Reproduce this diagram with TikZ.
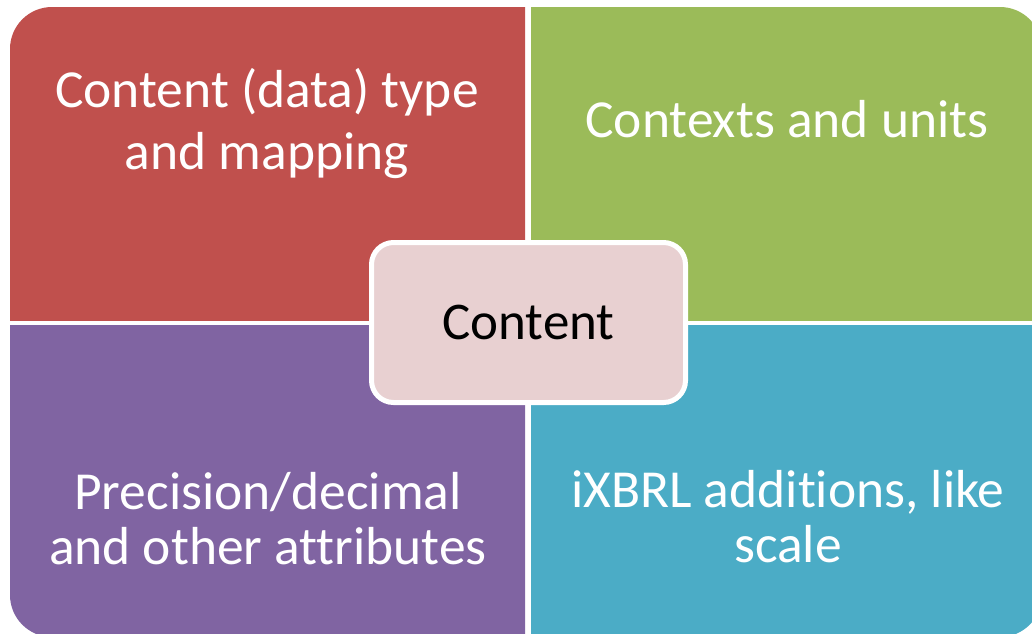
\documentclass[tikz,border=0pt]{standalone}
\usepackage{fontspec}
\setmainfont{Carlito}[Ligatures=NoCommon]

\definecolor{rojo}{HTML}{C0504D}
\definecolor{verde}{HTML}{9BBB59}
\definecolor{morado}{HTML}{8064A2}
\definecolor{azul}{HTML}{4BACC6}
\definecolor{rosa}{HTML}{E8D0D1}

\tikzset{
  texto/.style={text=white, align=center, inner sep=0pt, anchor=base,
    font=\fontsize{53.5}{62}\selectfont},
  textobajo/.style={texto, font=\fontsize{53.5}{55}\selectfont},
  centro/.style={draw=white, line width=5pt, fill=rosa, rounded corners=22pt,
    minimum width=314pt, minimum height=160pt, inner sep=0pt,
    font=\fontsize{53}{63}\selectfont}
}

\begin{document}
\begin{tikzpicture}[x=1pt, y=-1pt]
  \useasboundingbox (0,0) rectangle (1032,633);
  \clip (0,0) rectangle (1032,633);

  % Cuadrantes (esquinas exteriores redondeadas)
  \begin{scope}
    \clip (10,7) rectangle (525,320);
    \fill[rojo, rounded corners=42pt] (10,7) rectangle (1042,637);
  \end{scope}
  \begin{scope}
    \clip (531,7) rectangle (1042,320);
    \fill[verde, rounded corners=42pt] (10,7) rectangle (1042,637);
  \end{scope}
  \begin{scope}
    \clip (10,325) rectangle (525,637);
    \fill[morado, rounded corners=42pt] (10,7) rectangle (1042,637);
  \end{scope}
  \begin{scope}
    \clip (531,325) rectangle (1042,637);
    \fill[azul, rounded corners=42pt] (10,7) rectangle (1042,637);
  \end{scope}

  % Textos (base = ultima linea)
  \node[texto] (tipo) at (267,169) {Content (data) type\\and mapping};
  \node[texto] (contextos) at (787,137) {Contexts and units};
  \node[textobajo] (precision) at (268,564) {Precision/decimal\\and other attributes};
  \node[textobajo] (ixbrl) at (788,562) {iXBRL additions, like\\scale};

  % Caja central
  \node[centro] (contenido) at (528.5,322.5) {Content};
\end{tikzpicture}
\end{document}
